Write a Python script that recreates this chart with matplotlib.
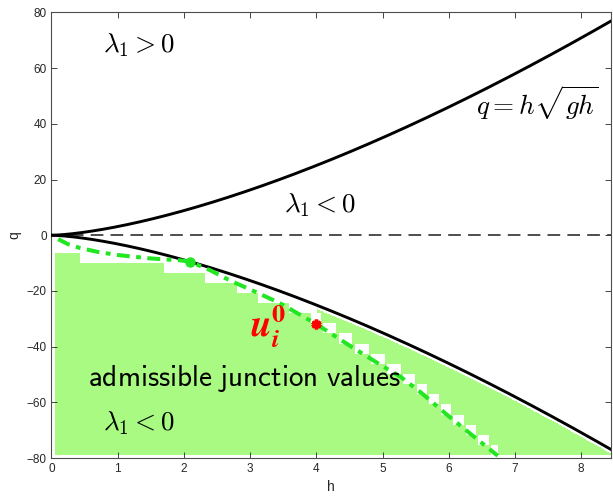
import numpy as np
import matplotlib
matplotlib.use("Agg")
import matplotlib.pyplot as plt
from matplotlib.colors import to_rgba

plt.rcParams["mathtext.fontset"] = "cm"
plt.rcParams["font.family"] = "Liberation Sans"

g = 9.81
h_max = 8.45

# wave curve through the junction state (dash-dot), as (h, q) pairs
wave_h = [0.10, 0.25, 0.42, 0.70, 1.00, 1.48, 1.94, 2.09, 2.40, 2.70, 3.05,
          3.45, 4.00, 4.52, 5.00, 5.27, 5.58, 6.00, 6.40, 6.74]
wave_q = [-1.4, -3.2, -4.5, -6.0, -7.1, -8.3, -9.0, -9.46, -12.6, -16.3, -20.0,
          -24.4, -31.9, -39.9, -47.0, -50.8, -56.5, -65.0, -72.7, -79.2]

# sonic point and initial junction state
sonic_h, sonic_q = 2.09, -9.46
u0_h, u0_q = 4.0, -31.9

# top edge of the admissible cells for h < h(u0)
stair_h = [0.053, 0.43, 1.70, 2.32, 2.80, 3.12, 3.58, 3.91]
stair_top = [-6.30, -9.93, -13.56, -17.19, -20.82, -24.45, -28.08, -31.71]

# row layout of the sampled junction values
row_base, row_step = -78.9, 3.63

# ---- admissible set on a grid ----
dh, dq = 0.01, 0.1
h_edges = np.arange(0.053, h_max + dh, dh)
q_edges = np.arange(row_base, 0 + dq, dq)
hc = 0.5 * (h_edges[1:] + h_edges[:-1])
qc = 0.5 * (q_edges[1:] + q_edges[:-1])
H, Q = np.meshgrid(hc, qc)

crit = -np.sqrt(g) * H**1.5
wave = np.interp(H, wave_h, wave_q, right=-np.inf)
k = np.floor((Q - row_base) / row_step)
bot = row_base + k * row_step
mid = bot + 0.5 * row_step

idx = np.clip(np.searchsorted(stair_h, H, side="right") - 1, 0, len(stair_h) - 1)
left = (H < u0_h) & (Q <= np.array(stair_top)[idx])
below = mid <= wave
above = bot >= wave + 0.35 * row_step
right = (H >= u0_h) & (below | above) & (Q <= crit - 1.5)
ok = left | right

img = np.zeros(ok.shape + (4,))
img[ok] = to_rgba("#a8fa82")

fig = plt.figure(figsize=(6.13, 4.98), dpi=100)
ax = fig.add_axes([0.084, 0.0803, 0.9127, 0.8946])

ax.imshow(img, extent=[h_edges[0], h_edges[-1], q_edges[0], q_edges[-1]],
          origin="lower", aspect="auto", interpolation="nearest", zorder=1)

h = np.linspace(0, h_max, 400)
ax.plot(h, np.sqrt(g) * h**1.5, color="k", lw=2.1, zorder=3)
ax.plot(h, -np.sqrt(g) * h**1.5, color="k", lw=2.1, zorder=3)
ax.axhline(0, color="#404040", lw=1.3, dashes=(7, 4), zorder=2)

ax.plot(wave_h, wave_q, color="#22e622", lw=2.9, dashes=[3.2, 1.6, 1.2, 1.6],
        zorder=4)
ax.plot(sonic_h, sonic_q, "o", color="#22e622", ms=6.5, zorder=5)
ax.plot(u0_h, u0_q, marker=(6, 2, 0), color="red", ms=7, mew=2.5, zorder=5)

ax.text(1.32, 68.4, r"$\lambda_1 > 0$", fontsize=19.5, ha="center", va="center")
ax.text(7.34, 47.5, r"$q = h\sqrt{gh}$", fontsize=19.5, ha="center", va="center")
ax.text(4.06, 10.9, r"$\lambda_1 < 0$", fontsize=19.5, ha="center", va="center")
ax.text(1.32, -67.4, r"$\lambda_1 < 0$", fontsize=19.5, ha="center", va="center")
ax.text(2.91, -51.3, r"$\mathsf{admissible\ junction\ values}$", fontsize=21,
        ha="center", va="center", zorder=6)
ax.text(3.27, -32.6, r"$\mathbfit{u}_{\mathbfit{i}}^{\mathbf{0}}$", fontsize=27,
        color="red", ha="center", va="center", math_fontfamily="stix", zorder=6)

ax.set_xlim(0, h_max)
ax.set_ylim(-80, 80)
ax.set_xticks(np.arange(0, 9, 1))
ax.set_yticks(np.arange(-80, 81, 20))
ax.tick_params(direction="in", top=True, right=True, length=4, width=0.6,
               colors="#262626", labelsize=8.5)
for s in ax.spines.values():
    s.set_color("#4d4d4d")
    s.set_linewidth(0.8)
ax.set_xlabel("h", fontsize=10, color="#262626")
ax.set_ylabel("q", fontsize=10, color="#262626")

fig.savefig("out.png", dpi=100)
